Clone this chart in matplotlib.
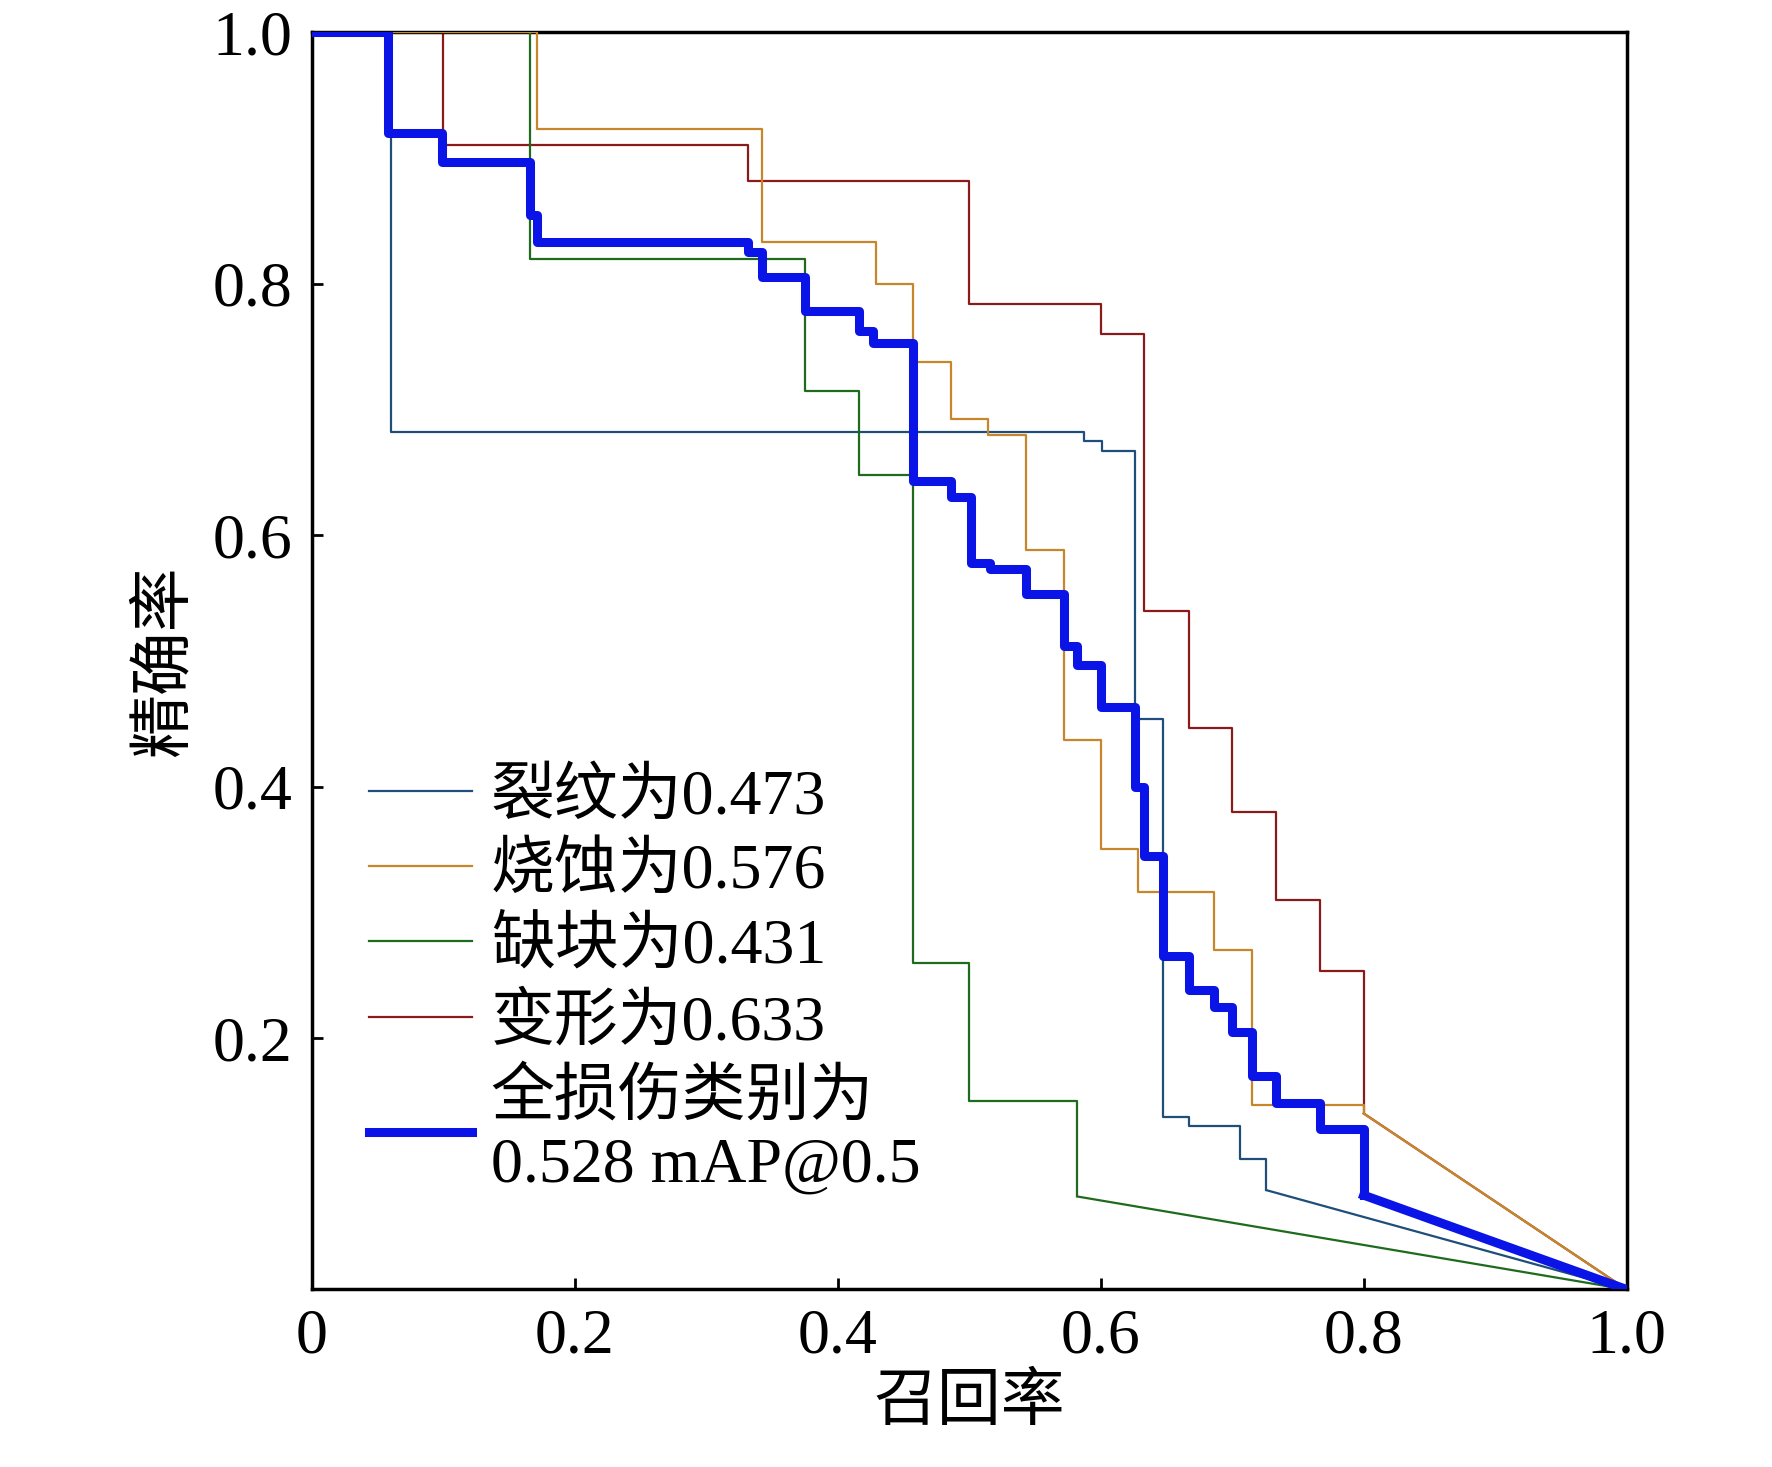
import matplotlib.pyplot as plt

plt.rcParams['font.family'] = ['Liberation Serif', 'Noto Sans CJK SC']
plt.rcParams['axes.unicode_minus'] = False

# step curves: recall where precision changes, precision held after it
crack_x = [0, 0.060, 0.587, 0.601, 0.626, 0.647, 0.667, 0.706, 0.726]
crack_y = [1.0, 0.682, 0.675, 0.667, 0.454, 0.137, 0.130, 0.104, 0.079]

erosion_x = [0, 0.171, 0.342, 0.429, 0.457, 0.486, 0.514, 0.543, 0.572, 0.600, 0.628, 0.686, 0.715, 0.800]
erosion_y = [1.0, 0.923, 0.833, 0.800, 0.738, 0.692, 0.680, 0.588, 0.437, 0.350, 0.316, 0.270, 0.147, 0.140]

missing_x = [0, 0.166, 0.375, 0.416, 0.457, 0.500, 0.582]
missing_y = [1.0, 0.820, 0.715, 0.648, 0.260, 0.150, 0.074]

deform_x = [0, 0.100, 0.332, 0.500, 0.600, 0.633, 0.667, 0.700, 0.733, 0.767, 0.800]
deform_y = [1.0, 0.910, 0.882, 0.784, 0.760, 0.540, 0.447, 0.380, 0.310, 0.253, 0.140]

all_x = [0, 0.058, 0.099, 0.166, 0.171, 0.332, 0.342, 0.375, 0.416, 0.427, 0.457, 0.486,
         0.501, 0.516, 0.543, 0.572, 0.582, 0.600, 0.626, 0.633, 0.647, 0.667, 0.686,
         0.700, 0.715, 0.733, 0.767, 0.800]
all_y = [1.0, 0.920, 0.897, 0.855, 0.833, 0.825, 0.805, 0.778, 0.762, 0.753, 0.643, 0.630,
         0.578, 0.573, 0.553, 0.512, 0.497, 0.463, 0.400, 0.345, 0.265, 0.238, 0.225,
         0.205, 0.170, 0.148, 0.128, 0.075]

series = [
    (crack_x, crack_y, '裂纹为0.473', '#1f4e7a', 1.6, 3),
    (erosion_x, erosion_y, '烧蚀为0.576', '#c8862a', 1.6, 4),
    (missing_x, missing_y, '缺块为0.431', '#1e6b1e', 1.6, 3),
    (deform_x, deform_y, '变形为0.633', '#8b1a1a', 1.6, 2),
    (all_x, all_y, '全损伤类别为\n0.528 mAP@0.5', '#0a14e6', 6.5, 5),
]

fig = plt.figure(figsize=(17.72, 14.67), dpi=100)
ax = fig.add_axes([0.176, 0.121, 0.742, 0.857])

for xs, ys, label, color, lw, z in series:
    ax.plot(xs, ys, drawstyle='steps-post', color=color, lw=lw, label=label, zorder=z)
    ax.plot([xs[-1], 1.0], [ys[-1], 0.0], color=color, lw=lw, zorder=z)

ax.set_xlim(0, 1)
ax.set_ylim(0, 1)
ax.set_xticks([0, 0.2, 0.4, 0.6, 0.8, 1.0])
ax.set_xticklabels(['0', '0.2', '0.4', '0.6', '0.8', '1.0'])
ax.set_yticks([0.2, 0.4, 0.6, 0.8, 1.0])
ax.set_yticklabels(['0.2', '0.4', '0.6', '0.8', '1.0'])
ax.tick_params(direction='in', labelsize=46, length=8, width=2, pad=14)
for s in ax.spines.values():
    s.set_linewidth(2.5)

ax.set_xlabel('召回率', fontsize=46, labelpad=6)
ax.set_ylabel('精确率', fontsize=46, labelpad=12)

ax.legend(loc='upper left', bbox_to_anchor=(0.0, 0.46), frameon=False,
          fontsize=46, handlelength=1.6, handletextpad=0.3, labelspacing=0.25)

fig.savefig('out.png', dpi=100)
